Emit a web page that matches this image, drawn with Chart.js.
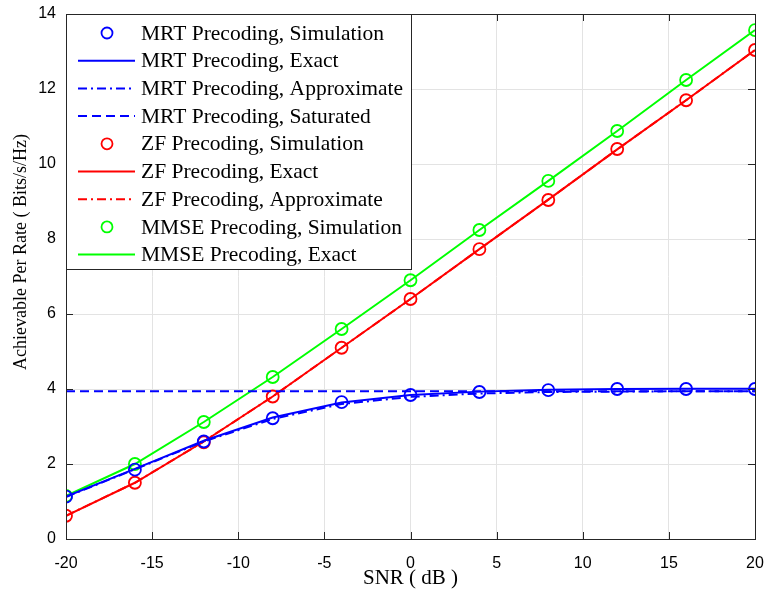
<!DOCTYPE html>
<html lang="en">
<head>
<meta charset="UTF-8">
<title>Achievable Per Rate vs SNR</title>
<style>
  html, body { margin: 0; padding: 0; background: #fff; }
  #wrap { width: 765px; height: 591px; }
</style>
<script src="https://cdn.jsdelivr.net/npm/chart.js"></script>
</head>
<body>
<div id="wrap"><canvas id="chart" width="765" height="591"></canvas></div>
<script>
// SNR (dB) sample points
const snr = [-20, -16, -12, -8, -4, 0, 4, 8, 12, 16, 20];

// MRT precoding
const mrtSim = [1.13, 1.85, 2.60, 3.22, 3.65, 3.84, 3.92, 3.97, 4.00, 4.00, 4.00];
const mrtExact = [1.13, 1.87, 2.62, 3.24, 3.64, 3.84, 3.93, 3.98, 4.00, 4.01, 4.01];
const mrtApprox = [1.12, 1.86, 2.60, 3.20, 3.60, 3.79, 3.88, 3.92, 3.93, 3.94, 3.94];
const mrtSaturated = [3.94, 3.94, 3.94, 3.94, 3.94, 3.94, 3.94, 3.94, 3.94, 3.94, 3.94];

// ZF precoding
const zfSim = [0.62, 1.50, 2.58, 3.80, 5.10, 6.40, 7.73, 9.04, 10.40, 11.70, 13.04];
const zfExact = [0.62, 1.50, 2.60, 3.80, 5.10, 6.40, 7.73, 9.05, 10.39, 11.70, 13.04];
const zfApprox = [0.62, 1.50, 2.60, 3.80, 5.10, 6.40, 7.73, 9.05, 10.39, 11.70, 13.04];

// MMSE precoding
const mmseSim = [1.15, 2.00, 3.12, 4.32, 5.60, 6.90, 8.24, 9.55, 10.88, 12.24, 13.57];
const mmseExact = [1.15, 2.00, 3.12, 4.32, 5.60, 6.90, 8.24, 9.55, 10.88, 12.24, 13.57];

const xTicks = [-20, -15, -10, -5, 0, 5, 10, 15, 20];
const yTicks = [0, 2, 4, 6, 8, 10, 12, 14];

const BLUE = '#0000ff', RED = '#ff0000', GREEN = '#00ff00';
const DASH = [9, 5];
const DASHDOT = [9, 4, 2, 4];
const SERIF = '"Liberation Serif", "Times New Roman", serif';
const SANS = '"Liberation Sans", Arial, sans-serif';

const pts = arr => arr.map((y, i) => ({ x: snr[i], y }));

function markers(label, data, color) {
  return {
    label, data: pts(data), showLine: false,
    borderColor: color, backgroundColor: 'transparent',
    pointRadius: 6, pointBorderWidth: 1.8, pointStyle: 'circle'
  };
}
function line(label, data, color, dash) {
  return {
    label, data: pts(data), showLine: true,
    borderColor: color, backgroundColor: color,
    borderWidth: 2, borderDash: dash || [], pointRadius: 0, tension: 0
  };
}

const datasets = [
  markers('MRT Precoding, Simulation', mrtSim, BLUE),
  line('MRT Precoding, Exact', mrtExact, BLUE),
  line('MRT Precoding, Approximate', mrtApprox, BLUE, DASHDOT),
  line('MRT Precoding, Saturated', mrtSaturated, BLUE, DASH),
  markers('ZF Precoding, Simulation', zfSim, RED),
  line('ZF Precoding, Exact', zfExact, RED),
  line('ZF Precoding, Approximate', zfApprox, RED, DASHDOT),
  markers('MMSE Precoding, Simulation', mmseSim, GREEN),
  line('MMSE Precoding, Exact', mmseExact, GREEN)
];

// keep the plot box where the original has it
function noPad(s) {
  s.paddingLeft = 0; s.paddingRight = 0; s.paddingTop = 0; s.paddingBottom = 0;
}

// MATLAB-like axes box with inward ticks on all sides, plus y label
const boxPlugin = {
  id: 'box',
  afterDatasetsDraw(chart) {
    const { ctx, chartArea: a, scales: { x, y } } = chart;
    ctx.save();
    ctx.strokeStyle = '#262626';
    ctx.lineWidth = 1;
    ctx.setLineDash([]);
    ctx.strokeRect(a.left + 0.5, a.top + 0.5, a.right - a.left, a.bottom - a.top);
    const len = 7;
    ctx.beginPath();
    xTicks.forEach(v => {
      const px = Math.round(x.getPixelForValue(v)) + 0.5;
      ctx.moveTo(px, a.bottom); ctx.lineTo(px, a.bottom - len);
      ctx.moveTo(px, a.top); ctx.lineTo(px, a.top + len);
    });
    yTicks.forEach(v => {
      const py = Math.round(y.getPixelForValue(v)) + 0.5;
      ctx.moveTo(a.left, py); ctx.lineTo(a.left + len, py);
      ctx.moveTo(a.right, py); ctx.lineTo(a.right - len, py);
    });
    ctx.stroke();

    // y axis title, sits a bit above the axis centre as in the original
    ctx.translate(21, 252);
    ctx.rotate(-Math.PI / 2);
    ctx.fillStyle = '#000';
    ctx.font = '18px ' + SERIF;
    ctx.textAlign = 'center';
    ctx.textBaseline = 'middle';
    ctx.fillText('Achievable Per Rate ( Bits/s/Hz)', 0, 0);
    ctx.restore();
  }
};

// legend box drawn inside the plot, top-left
const legendPlugin = {
  id: 'insideLegend',
  afterDraw(chart) {
    const { ctx, chartArea: a } = chart;
    const left = a.left, top = a.top;
    const w = 345, h = 255, rowH = 27.7, firstY = top + 19;
    ctx.save();
    ctx.fillStyle = '#fff';
    ctx.fillRect(left, top, w, h);
    ctx.strokeStyle = '#262626';
    ctx.lineWidth = 1;
    ctx.setLineDash([]);
    ctx.strokeRect(left + 0.5, top + 0.5, w, h);
    ctx.font = '21.5px ' + SERIF;
    ctx.textBaseline = 'middle';
    chart.data.datasets.forEach((ds, i) => {
      const cy = firstY + i * rowH;
      ctx.strokeStyle = ds.borderColor;
      if (ds.showLine) {
        ctx.lineWidth = ds.borderWidth;
        ctx.setLineDash(ds.borderDash);
        ctx.beginPath();
        ctx.moveTo(left + 12, cy); ctx.lineTo(left + 69, cy);
        ctx.stroke();
      } else {
        ctx.lineWidth = ds.pointBorderWidth;
        ctx.setLineDash([]);
        ctx.beginPath();
        ctx.arc(left + 41, cy, 5.5, 0, Math.PI * 2);
        ctx.stroke();
      }
      ctx.fillStyle = '#000';
      ctx.fillText(ds.label, left + 75, cy + 1);
    });
    ctx.restore();
  }
};

new Chart(document.getElementById('chart'), {
  type: 'scatter',
  data: { datasets },
  plugins: [boxPlugin, legendPlugin],
  options: {
    responsive: false,
    animation: false,
    layout: { padding: { top: 14, right: 10, left: 0, bottom: 0 } },
    plugins: { legend: { display: false }, tooltip: { enabled: false } },
    scales: {
      x: {
        type: 'linear', min: -20, max: 20,
        afterBuildTicks: s => { s.ticks = xTicks.map(v => ({ value: v })); },
        afterFit: s => { s.height = 52; noPad(s); },
        ticks: {
          color: '#000', padding: 15, maxRotation: 0,
          font: { family: SANS, size: 16 }
        },
        grid: { color: '#e3e3e3', drawTicks: false, lineWidth: 1 },
        border: { display: false },
        title: {
          display: true, text: 'SNR ( dB )', color: '#000', padding: { top: 0, bottom: 0 },
          font: { family: SERIF, size: 21 }
        }
      },
      y: {
        type: 'linear', min: 0, max: 14,
        afterBuildTicks: s => { s.ticks = yTicks.map(v => ({ value: v })); },
        afterFit: s => { s.width = 66; noPad(s); },
        ticks: {
          color: '#000', padding: 10,
          font: { family: SANS, size: 16 }
        },
        grid: { color: '#e3e3e3', drawTicks: false, lineWidth: 1 },
        border: { display: false }
      }
    }
  }
});
</script>
</body>
</html>
